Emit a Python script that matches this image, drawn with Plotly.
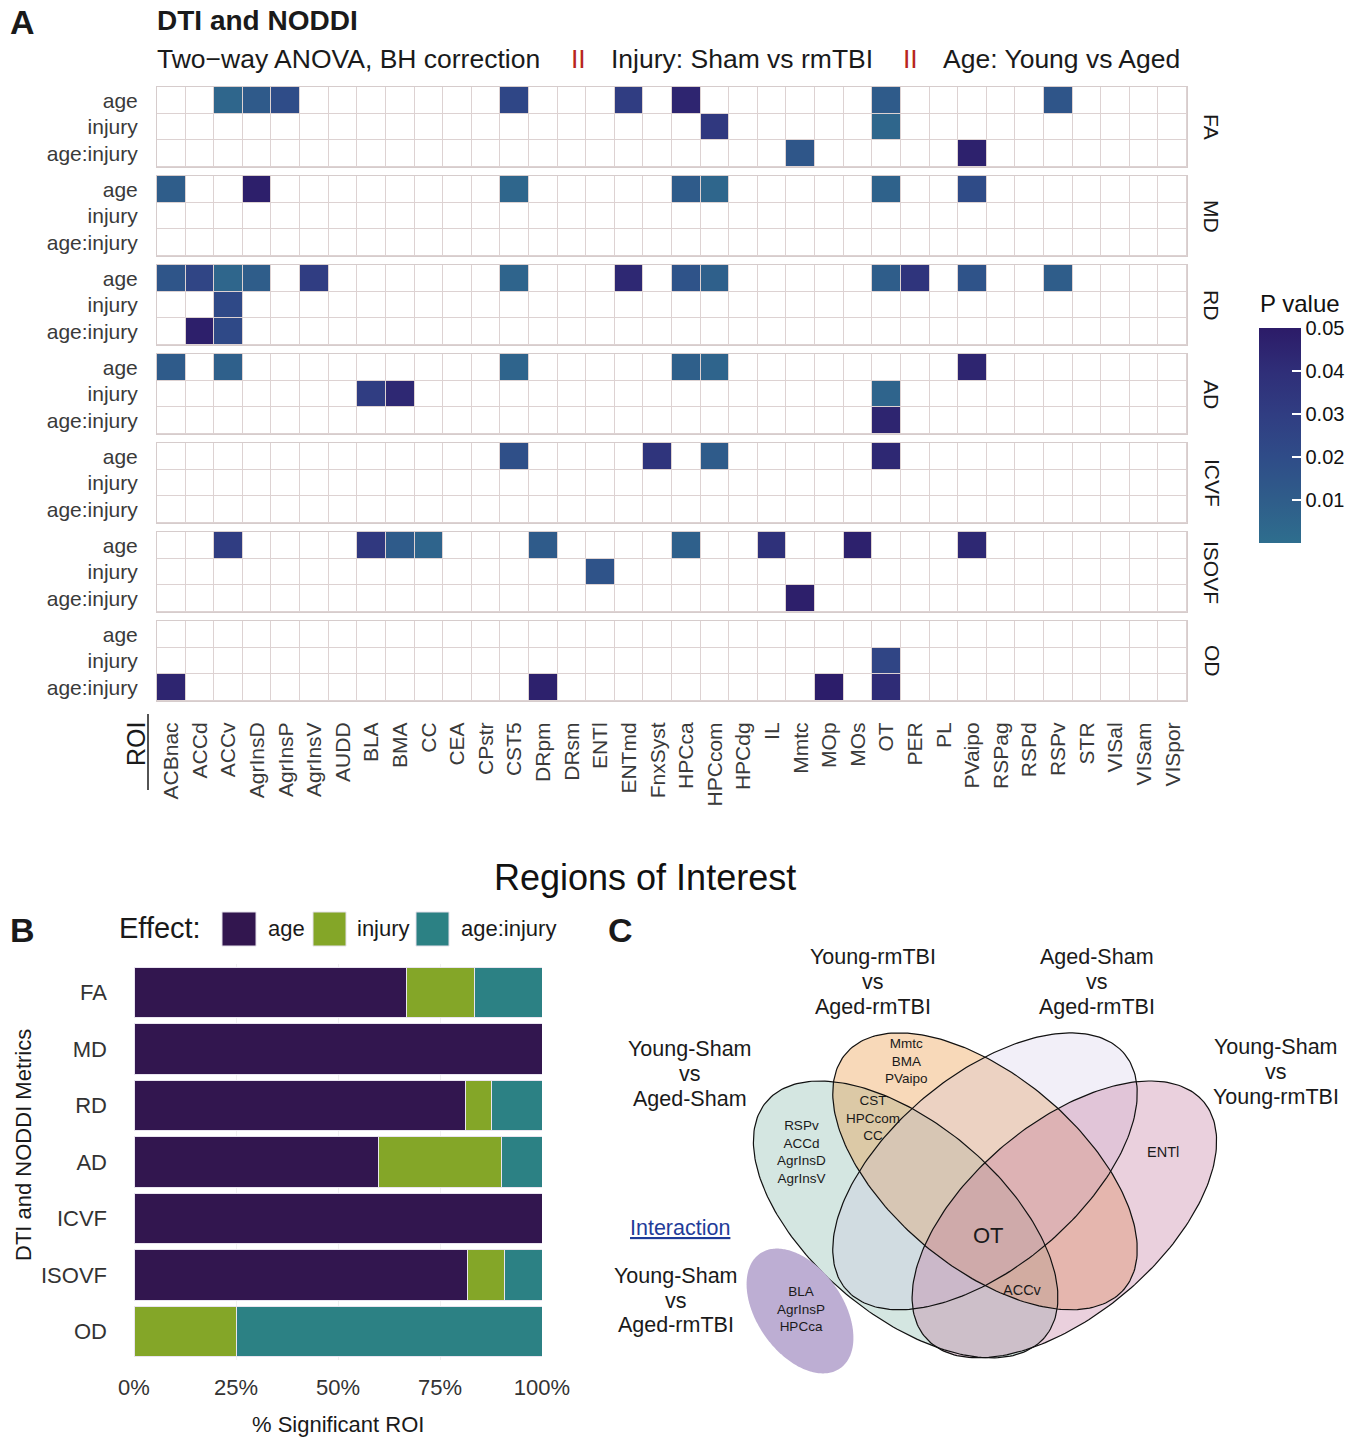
import numpy as np
import plotly.graph_objects as go

W, H = 1369, 1437
FONT = "Liberation Sans, Arial, Helvetica, sans-serif"

# ---------------- DATA ----------------
roi = ["ACBnac", "ACCd", "ACCv", "AgrInsD", "AgrInsP", "AgrInsV", "AUDD", "BLA", "BMA", "CC",
       "CEA", "CPstr", "CST5", "DRpm", "DRsm", "ENTl", "ENTmd", "FnxSyst", "HPCca", "HPCcom",
       "HPCdg", "IL", "Mmtc", "MOp", "MOs", "OT", "PER", "PL", "PVaipo", "RSPag", "RSPd",
       "RSPv", "STR", "VISal", "VISam", "VISpor"]
effects = ["age", "injury", "age:injury"]
metrics = ["FA", "MD", "RD", "AD", "ICVF", "ISOVF", "OD"]

# significant (BH-adjusted) p values: (ROI, p)
FA_age = [("ACCv", 0.005), ("AgrInsD", 0.012), ("AgrInsP", 0.02), ("CST5", 0.024),
          ("ENTmd", 0.03), ("HPCca", 0.045), ("OT", 0.011), ("RSPv", 0.015)]
FA_injury = [("HPCcom", 0.033), ("OT", 0.005)]
FA_inter = [("Mmtc", 0.014), ("PVaipo", 0.047)]

MD_age = [("ACBnac", 0.01), ("AgrInsD", 0.048), ("CST5", 0.005), ("HPCca", 0.011),
          ("HPCcom", 0.005), ("OT", 0.007), ("PVaipo", 0.021)]
MD_injury = []
MD_inter = []

RD_age = [("ACBnac", 0.015), ("ACCd", 0.025), ("ACCv", 0.005), ("AgrInsD", 0.01),
          ("AgrInsV", 0.03), ("CST5", 0.006), ("ENTmd", 0.043), ("HPCca", 0.016),
          ("HPCcom", 0.008), ("OT", 0.01), ("PER", 0.036), ("PVaipo", 0.016), ("RSPv", 0.01)]
RD_injury = [("ACCv", 0.022)]
RD_inter = [("ACCd", 0.048), ("ACCv", 0.022)]

AD_age = [("ACBnac", 0.011), ("ACCv", 0.008), ("CST5", 0.006), ("HPCca", 0.009),
          ("HPCcom", 0.006), ("PVaipo", 0.045)]
AD_injury = [("BLA", 0.03), ("BMA", 0.043), ("OT", 0.006)]
AD_inter = [("OT", 0.045)]

ICVF_age = [("CST5", 0.018), ("FnxSyst", 0.036), ("HPCcom", 0.011), ("OT", 0.043)]
ICVF_injury = []
ICVF_inter = []

ISOVF_age = [("ACCv", 0.03), ("BLA", 0.033), ("BMA", 0.011), ("CC", 0.006), ("DRpm", 0.011),
             ("HPCca", 0.008), ("IL", 0.038), ("MOs", 0.047), ("PVaipo", 0.043)]
ISOVF_injury = [("ENTl", 0.016)]
ISOVF_inter = [("Mmtc", 0.048)]

OD_age = []
OD_injury = [("OT", 0.025)]
OD_inter = [("ACBnac", 0.045), ("DRpm", 0.047), ("MOp", 0.049), ("OT", 0.041)]

sig_by_metric = [
    [FA_age, FA_injury, FA_inter],
    [MD_age, MD_injury, MD_inter],
    [RD_age, RD_injury, RD_inter],
    [AD_age, AD_injury, AD_inter],
    [ICVF_age, ICVF_injury, ICVF_inter],
    [ISOVF_age, ISOVF_injury, ISOVF_inter],
    [OD_age, OD_injury, OD_inter],
]

# Panel B: % significant ROI per metric
age_pct = [66.7, 100, 81.25, 60, 100, 81.8, 0]
injury_pct = [16.7, 0, 6.25, 30, 0, 9.1, 25]
inter_pct = [16.6, 0, 12.5, 10, 0, 9.1, 75]
pct_ticks = [0, 25, 50, 75, 100]

# Panel C: Venn labels
set_labels = [["Young-Sham", "vs", "Aged-Sham"],
              ["Young-rmTBI", "vs", "Aged-rmTBI"],
              ["Aged-Sham", "vs", "Aged-rmTBI"],
              ["Young-Sham", "vs", "Young-rmTBI"]]
region_green = ["RSPv", "ACCd", "AgrInsD", "AgrInsV"]
region_orange = ["Mmtc", "BMA", "PVaipo"]
region_green_orange = ["CST", "HPCcom", "CC"]
region_all = ["OT"]
region_orange_pink = ["ACCv"]
region_pink = ["ENTl"]
interaction_label = ["Young-Sham", "vs", "Aged-rmTBI"]
region_interaction = ["BLA", "AgrInsP", "HPCca"]

# ---------------- STYLE ----------------
GRID = "#ddd2d2"
TXT = "#3a3a3a"
PSCALE = [[0, "#2e6e8e"], [0.2, "#2f5d8a"], [0.4, "#2f4c88"], [0.6, "#303d82"],
          [0.8, "#2f2e78"], [1, "#2c1b68"]]
BAR_COLORS = ["#32164f", "#84a628", "#2c8184"]

fig = go.Figure()
layout = dict(width=W, height=H, margin=dict(l=0, r=0, t=0, b=0, pad=0, autoexpand=False),
              paper_bgcolor="white", plot_bgcolor="white",
              font=dict(family=FONT, color="#1a1a1a"),
              showlegend=False, barmode="stack", bargap=0.1)
annotations = []
shapes = []


def px_x(x):
    return x / W


def px_y(y):
    return 1 - y / H


# ---------------- PANEL A: faceted heatmap ----------------
HX0, HX1 = 157, 1187
for i, m in enumerate(metrics):
    top = 87 + 89 * i
    bot = top + 80
    sfx = "" if i == 0 else str(i + 1)
    xa, ya = "x" + sfx, "y" + sfx
    zeros = [[0] * len(roi) for _ in effects]
    pz = [[None] * len(roi) for _ in effects]
    for r, lst in enumerate(sig_by_metric[i]):
        for name, p in lst:
            pz[r][roi.index(name)] = p
    fig.add_trace(go.Heatmap(x=roi, y=effects, z=zeros, zmin=0, zmax=1,
                             colorscale=[[0, GRID], [1, GRID]], showscale=False,
                             hoverinfo="skip", xaxis=xa, yaxis=ya))
    fig.add_trace(go.Heatmap(x=roi, y=effects, z=zeros, zmin=0, zmax=1,
                             colorscale=[[0, "white"], [1, "white"]], showscale=False,
                             xgap=1, ygap=1, hoverinfo="skip", xaxis=xa, yaxis=ya))
    hm = dict(x=roi, y=effects, z=pz, zmin=0, zmax=0.05, colorscale=PSCALE,
              xgap=1, ygap=1, xaxis=xa, yaxis=ya, showscale=(i == 0),
              hovertemplate="%{x} %{y}: %{z}<extra>" + m + "</extra>")
    if i == 0:
        hm["colorbar"] = dict(
            x=1259 / W, xanchor="left", xpad=0, ypad=0,
            y=px_y(435.5), yanchor="middle", len=215, lenmode="pixels",
            thickness=42, thicknessmode="pixels", outlinewidth=0,
            tickvals=[0.01, 0.02, 0.03, 0.04, 0.05],
            ticktext=["0.01", "0.02", "0.03", "0.04", "0.05"],
            ticks="inside", ticklen=9, tickcolor="white", tickwidth=1.5,
            tickfont=dict(size=20, color="#111"))
    fig.add_trace(go.Heatmap(**hm))
    layout["xaxis" + sfx] = dict(
        domain=[px_x(HX0), px_x(HX1)], anchor=ya, type="category",
        categoryorder="array", categoryarray=roi, range=[-0.5, len(roi) - 0.5],
        showticklabels=(i == len(metrics) - 1), tickangle=-90, ticks="",
        tickfont=dict(size=21, color=TXT), ticklabelstandoff=12, automargin=False,
        showgrid=False, zeroline=False, showline=True, mirror=True,
        linecolor="#d6cccc", linewidth=1, fixedrange=True)
    layout["yaxis" + sfx] = dict(
        domain=[px_y(bot), px_y(top)], anchor=xa, type="category",
        categoryorder="array", categoryarray=effects, range=[2.5, -0.5],
        ticks="", tickfont=dict(size=21, color=TXT), ticklabelstandoff=14, automargin=False,
        showgrid=False, zeroline=False, showline=True, mirror=True,
        linecolor="#d6cccc", linewidth=1, fixedrange=True)
    annotations.append(dict(text=m, x=px_x(1212), y=px_y((top + bot) / 2), textangle=90,
                            font=dict(size=21, color="#1a1a1a")))

# titles of panel A
annotations += [
    dict(text="<b>A</b>", x=px_x(8), y=px_y(22), xanchor="left", font=dict(size=34, color="#1a1a1a")),
    dict(text="<b>DTI and NODDI</b>", x=px_x(155), y=px_y(20), xanchor="left",
         font=dict(size=28, color="#1a1a1a")),
    dict(text="Two\u2212way ANOVA, BH correction", x=px_x(155), y=px_y(59), xanchor="left",
         font=dict(size=26.5, color="#1a1a1a")),
    dict(text="II", x=px_x(578.5), y=px_y(59), font=dict(size=26.5, color="#b8261c")),
    dict(text="Injury: Sham vs rmTBI", x=px_x(609), y=px_y(59), xanchor="left",
         font=dict(size=26.5, color="#1a1a1a")),
    dict(text="II", x=px_x(910.5), y=px_y(59), font=dict(size=26.5, color="#b8261c")),
    dict(text="Age: Young vs Aged", x=px_x(941), y=px_y(59), xanchor="left",
         font=dict(size=26.5, color="#1a1a1a")),
    dict(text="ROI", x=px_x(136), y=px_y(744), textangle=-90,
         font=dict(size=25, color="#1a1a1a")),
    dict(text="P value", x=px_x(1258), y=px_y(304), xanchor="left",
         font=dict(size=24, color="#111")),
    dict(text="Regions of Interest", x=px_x(645), y=px_y(877),
         font=dict(size=36, color="#111")),
]
shapes.append(dict(type="line", xref="paper", yref="paper", x0=px_x(148), x1=px_x(148),
                   y0=px_y(714), y1=px_y(790), line=dict(color="#1a1a1a", width=1.5)))

# ---------------- PANEL B: stacked bars ----------------
for eff, vals, col in zip(effects, [age_pct, injury_pct, inter_pct], BAR_COLORS):
    fig.add_trace(go.Bar(x=vals, y=metrics, orientation="h", name=eff,
                         marker=dict(color=col, line=dict(color="#e9e4ef", width=1)),
                         xaxis="x8", yaxis="y8",
                         hovertemplate="%{y}: %{x:.1f}%<extra>" + eff + "</extra>"))
layout["xaxis8"] = dict(domain=[px_x(134), px_x(542)], anchor="y8", range=[0, 100],
                        tickvals=pct_ticks, ticktext=[f"{v}%" for v in pct_ticks],
                        tickfont=dict(size=22, color="#333"), ticks="", ticklabelstandoff=12,
                        automargin=False,
                        showgrid=True, gridcolor="#f1f1f1", zeroline=False, fixedrange=True)
layout["yaxis8"] = dict(domain=[px_y(1359.75), px_y(964.25)], anchor="x8", type="category",
                        categoryorder="array", categoryarray=metrics, autorange="reversed",
                        tickfont=dict(size=22, color="#333"), ticks="", ticklabelstandoff=26,
                        automargin=False,
                        showgrid=False, zeroline=False, fixedrange=True)
annotations += [
    dict(text="<b>B</b>", x=px_x(8), y=px_y(930), xanchor="left", font=dict(size=34, color="#1a1a1a")),
    dict(text="Effect:", x=px_x(117), y=px_y(928), xanchor="left", font=dict(size=29, color="#1a1a1a")),
    dict(text="% Significant ROI", x=px_x(338), y=px_y(1424), font=dict(size=22, color="#1a1a1a")),
    dict(text="DTI and NODDI Metrics", x=px_x(23), y=px_y(1145), textangle=-90,
         font=dict(size=22, color="#1a1a1a")),
]
legend_keys = [(222, 256, 266), (313, 346, 355), (416, 449, 459)]
for (k0, k1, tx), eff, col in zip(legend_keys, effects, BAR_COLORS):
    shapes.append(dict(type="rect", xref="paper", yref="paper", x0=px_x(k0), x1=px_x(k1),
                       y0=px_y(946), y1=px_y(912), fillcolor=col,
                       line=dict(color="#e4e0ea", width=1)))
    annotations.append(dict(text=eff, x=px_x(tx), y=px_y(928), xanchor="left",
                            font=dict(size=22, color="#1a1a1a")))

# ---------------- PANEL C: Venn diagram ----------------
layout["xaxis9"] = dict(domain=[px_x(600), 1], anchor="y9", range=[600, W], visible=False,
                        automargin=False, fixedrange=True)
layout["yaxis9"] = dict(domain=[0, px_y(940)], anchor="x9", range=[H, 940], visible=False,
                        automargin=False, fixedrange=True)
# VennDiagram quad geometry (unit space) -> pixel mapping
VX0, VUX, VY0, VUY = 720.5, 529.0, 1445.5, 481.0
venn_cx = [0.35, 0.50, 0.50, 0.65]
venn_cy = [0.47, 0.57, 0.57, 0.47]
venn_a, venn_b = 0.36, 0.19
venn_rot = [135, 135, 45, 45]
venn_fill = ["rgba(120,178,162,0.32)", "rgba(236,150,60,0.36)",
             "rgba(200,190,225,0.24)", "rgba(190,112,152,0.33)"]
tt = np.linspace(0, 2 * np.pi, 240)
outlines = []
for cx, cy, rot, fc in zip(venn_cx, venn_cy, venn_rot, venn_fill):
    r = np.deg2rad(rot)
    ux = cx + venn_a * np.cos(tt) * np.cos(r) - venn_b * np.sin(tt) * np.sin(r)
    uy = cy + venn_a * np.cos(tt) * np.sin(r) + venn_b * np.sin(tt) * np.cos(r)
    X, Y = VX0 + VUX * ux, VY0 - VUY * uy
    outlines.append((X, Y))
    fig.add_trace(go.Scatter(x=X, y=Y, mode="none", fill="toself", fillcolor=fc,
                             xaxis="x9", yaxis="y9", hoverinfo="skip"))
for X, Y in outlines:
    fig.add_trace(go.Scatter(x=X, y=Y, mode="lines", line=dict(color="#111", width=1.2),
                             xaxis="x9", yaxis="y9", hoverinfo="skip"))
# interaction ellipse (pixel geometry)
ic_x, ic_y, ic_a, ic_b, ic_rot = 800, 1311, 70, 43, 55
r = np.deg2rad(ic_rot)
IX = ic_x + ic_a * np.cos(tt) * np.cos(r) - ic_b * np.sin(tt) * np.sin(r)
IY = ic_y + ic_a * np.cos(tt) * np.sin(r) + ic_b * np.sin(tt) * np.cos(r)
fig.add_trace(go.Scatter(x=IX, y=IY, mode="none", fill="toself", fillcolor="#bdaed3",
                         xaxis="x9", yaxis="y9", hoverinfo="skip"))


def add_lines(lines, x, y0, dy, size, color="#1a1a1a"):
    for k, s in enumerate(lines):
        annotations.append(dict(text=s, x=x, y=y0 + k * dy, xref="x9", yref="y9",
                                font=dict(size=size, color=color)))


def add_block(lines, x, yc, size, color="#1a1a1a"):
    annotations.append(dict(text="<br>".join(lines), x=x, y=yc, xref="x9", yref="y9",
                            font=dict(size=size, color=color)))


add_lines(set_labels[0], 690, 1049, 25, 21.5)
add_lines(set_labels[1], 873, 957, 25, 21.5)
add_lines(set_labels[2], 1097, 957, 25, 21.5)
add_lines(set_labels[3], 1276, 1047, 25, 21.5)
add_lines(interaction_label, 676, 1276, 24.5, 21.5)
add_block(region_orange, 906, 1061, 13.5)
add_block(region_green_orange, 873, 1118, 13.5)
add_block(region_green, 801, 1152, 13.5)
add_block(region_all, 988, 1235, 22)
add_block(region_orange_pink, 1022, 1290, 14.5)
add_block(region_pink, 1163, 1152, 14.5)
add_block(region_interaction, 801, 1309, 13.5)
annotations.append(dict(text="<u>Interaction</u>", x=680, y=1228, xref="x9", yref="y9",
                        font=dict(size=21.5, color="#1f3c99")))
annotations.append(dict(text="<b>C</b>", x=px_x(606), y=px_y(930), xanchor="left",
                        font=dict(size=34, color="#1a1a1a")))

for a in annotations:
    a.setdefault("xref", "paper")
    a.setdefault("yref", "paper")
    a.setdefault("showarrow", False)
    a.setdefault("xanchor", "center")
    a.setdefault("yanchor", "middle")

layout["annotations"] = annotations
layout["shapes"] = shapes
fig.update_layout(**layout)
fig.write_html("out.html", config={"displayModeBar": False},
               post_script="document.body.style.margin='0px';")
